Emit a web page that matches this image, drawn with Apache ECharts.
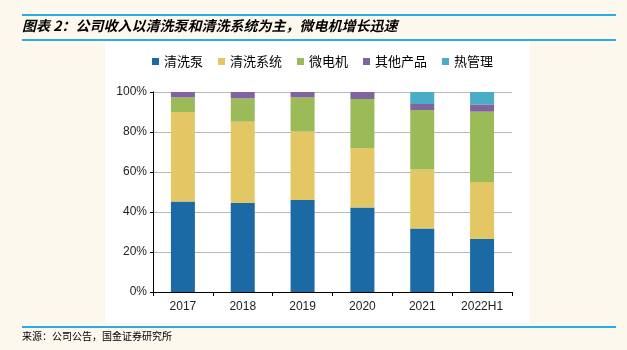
<!DOCTYPE html>
<html><head><meta charset="utf-8">
<script src="https://cdn.jsdelivr.net/npm/echarts@6/dist/echarts.min.js"></script>
<style>html,body{margin:0;padding:0;background:#fdf8ee;}#c{width:627px;height:350px;}</style>
</head><body><div id="c"></div>
<script>
const categories = ['2017','2018','2019','2020','2021','2022H1'];
const seriesNames = ['清洗泵','清洗系统','微电机','其他产品','热管理'];
const pump = [45.2, 44.5, 46.0, 42.2, 31.7, 26.5];
const system = [44.8, 40.7, 34.2, 29.8, 29.6, 28.5];
const motor = [7.3, 11.6, 17.1, 24.5, 29.7, 35.2];
const other = [2.7, 3.2, 2.7, 3.5, 3.0, 3.6];
const thermal = [0, 0, 0, 0, 6.0, 6.2];
const yTicks = [0, 20, 40, 60, 80, 100];
const colors = ['#1b6aa5','#e4c765','#9bbb59','#8064a2','#4bacc6'];
const values = [pump, system, motor, other, thermal];

const chart = echarts.init(document.getElementById('c'));
const cjk = '"Noto Sans CJK SC", sans-serif';
chart.setOption({
  backgroundColor: '#fdf8ee',
  animation: false,
  graphic: [
    {type:'rect', shape:{x:105,y:40,width:425,height:283}, style:{fill:'#ffffff'}, z:-10},
    {type:'line', shape:{x1:22,y1:15,x2:616,y2:15}, style:{stroke:'#2eaae6',lineWidth:2}},
    {type:'line', shape:{x1:22,y1:40,x2:616,y2:40}, style:{stroke:'#2eaae6',lineWidth:2}},
    {type:'line', shape:{x1:22,y1:327,x2:616,y2:327}, style:{stroke:'#2eaae6',lineWidth:2}},
    {type:'text', left:22, top:19, style:{text:'图表 2：公司收入以清洗泵和清洗系统为主，微电机增长迅速', font:'italic bold 14px '+cjk, fill:'#000'}},
    {type:'text', left:22, top:331, style:{text:'来源：公司公告，国金证券研究所', font:'10px '+cjk, fill:'#000'}}
  ],
  legend: {
    top: 55, left: 152, padding: 0, itemWidth: 7, itemHeight: 7, itemGap: 15,
    icon: 'rect',
    textStyle: {fontFamily: cjk, fontSize: 13, color: '#000'},
    data: seriesNames
  },
  grid: {left:153, right:115, top:92, bottom:58},
  xAxis: {
    type:'category', data: categories,
    axisLine:{lineStyle:{color:'#000'}},
    axisTick:{show:true, length:4, lineStyle:{color:'#000'}},
    axisLabel:{color:'#222', fontFamily:'"Liberation Sans", Arial, sans-serif', fontSize:12, margin:9}
  },
  yAxis: {
    type:'value', min: yTicks[0], max: yTicks[yTicks.length-1], interval: 20,
    axisLine:{show:true, lineStyle:{color:'#000'}},
    axisTick:{show:true, length:3, lineStyle:{color:'#000'}},
    axisLabel:{formatter:'{value}%', color:'#222', fontFamily:'"Liberation Sans", Arial, sans-serif', fontSize:12, margin:6},
    splitLine:{lineStyle:{color:'#b8b8b8'}}
  },
  series: seriesNames.map((n,i)=>({
    name:n, type:'bar', stack:'total', data: values[i], barWidth: 24,
    itemStyle:{color: colors[i]}
  }))
});
</script></body></html>
